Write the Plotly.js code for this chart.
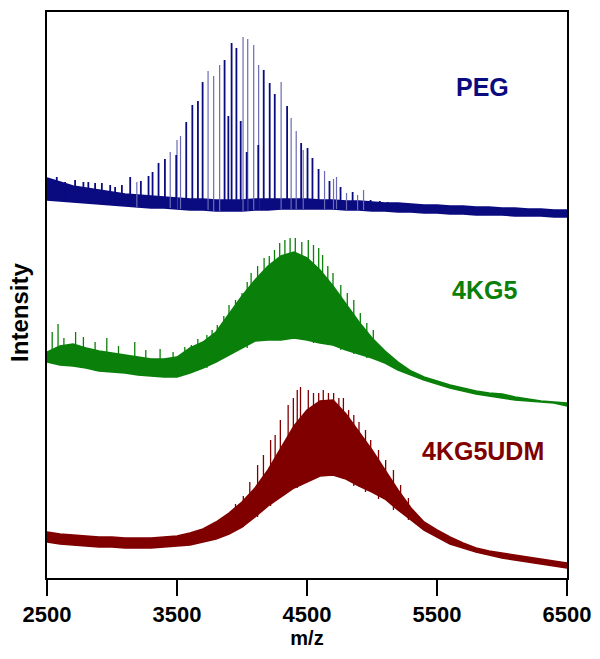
<!DOCTYPE html>
<html>
<head>
<meta charset="utf-8">
<script src="https://cdn.plot.ly/plotly-3.0.1.min.js"></script>
<style>
  html, body { margin: 0; padding: 0; background: #fff; }
  #chart { width: 600px; height: 659px; }
</style>
</head>
<body>
<div id="chart"></div>
<script>
// m/z grid the band edges were read on (every 100 Da)
const MZ = [2500, 2600, 2700, 2800, 2900, 3000, 3100, 3200, 3300, 3400, 3500,
  3600, 3700, 3800, 3900, 4000, 4100, 4200, 4300, 4400, 4500,
  4600, 4700, 4800, 4900, 5000, 5100, 5200, 5300, 5400, 5500,
  5600, 5700, 5800, 5900, 6000, 6100, 6200, 6300, 6400, 6500];

const X_TICKS = [2500, 3500, 4500, 5500, 6500];

// Stacked intensities (arbitrary units, each trace offset vertically).
// PEG baseline noise band
const PEG_TOP = [400, 396, 392, 390, 388, 386, 384, 383, 382, 381, 380,
  379, 379, 378, 378, 378, 379, 379, 379, 379, 379,
  378, 378, 377, 377, 376, 375, 375, 374, 373, 373,
  372, 372, 371, 371, 370, 370, 369, 369, 368, 368];
const PEG_BOTTOM = [378, 377, 376, 375, 374, 373, 372, 371, 370, 370, 369,
  368, 368, 367, 367, 367, 368, 368, 369, 369, 369,
  369, 369, 368, 368, 367, 367, 366, 366, 365, 365,
  364, 364, 363, 363, 363, 362, 362, 362, 361, 361];

// PEG oligomer peaks (44 Da series), drawn dark and pale as in the scan
const PEG_DARK_MZ = [2575, 2639, 2716, 2780, 2818, 2870, 2922, 2986, 3024, 3076,
  3140, 3222, 3281, 3312, 3358, 3407, 3494, 3571, 3618, 3661, 3697,
  3866, 3895, 3920, 3957, 3990, 4036, 4125, 4167, 4213, 4252, 4347,
  4455, 4504, 4542, 4589, 4673, 4758, 4851, 4989, 5060, 5120, 5200, 5450];
const PEG_DARK_H = [401, 396, 398, 396, 396, 395, 395, 393, 391, 393,
  401, 397, 402, 406, 415, 419, 423, 456, 473, 477, 496,
  518, 462, 535, 530, 457, 426, 433, 508, 495, 484, 472,
  435, 430, 420, 409, 397, 391, 386, 378, 377, 376, 374, 372];
const PEG_LIGHT_MZ = [3191, 3448, 3500, 3527, 3739, 3782, 3828, 4008, 4044, 4090,
  4128, 4301, 4378, 4417, 4471, 4635, 4704, 4727, 4804, 4889, 4935];
const PEG_LIGHT_H = [396, 426, 438, 442, 507, 502, 513, 541, 539, 533,
  513, 496, 460, 447, 428, 407, 399, 401, 385, 383, 388];

// 4KG5 dense envelope
const KG5_TOP = [226, 232, 234, 230, 227, 225, 223, 221, 219, 219, 221,
  230, 236, 246, 264, 282, 298, 312, 322, 326, 320,
  308, 292, 274, 256, 240, 227, 216, 207, 201, 197,
  193, 190, 187, 185, 184, 181, 179, 177, 176, 175];
const KG5_BOTTOM = [216, 213, 212, 210, 207, 206, 205, 203, 202, 201, 201,
  205, 210, 216, 223, 230, 237, 238, 238, 240, 238,
  235, 233, 228, 224, 220, 215, 208, 203, 198, 194,
  190, 187, 184, 182, 180, 178, 177, 176, 175, 172];
const KG5_SPIKE_MZ = [2540, 2585, 2630, 2720, 2780, 2870, 2960, 3050, 3175, 3260,
  3370, 3470, 3560, 3610, 3660, 3730, 3770, 3810, 3860, 3900, 3950,
  4000, 4040, 4070, 4120, 4170, 4210, 4250, 4290, 4330, 4370, 4410,
  4460, 4510, 4550, 4590, 4620, 4660, 4700, 4760, 4810, 4860, 4910, 4960, 5010];
const KG5_SPIKE_H = [246, 254, 240, 246, 241, 236, 240, 232, 236, 228,
  229, 226, 231, 233, 239, 243, 248, 253, 262, 273, 278,
  285, 296, 305, 312, 320, 322, 328, 335, 338, 340, 340,
  336, 338, 333, 330, 323, 312, 305, 293, 285, 278, 265, 255, 248];

// 4KG5UDM dense envelope
const UDM_TOP = [46, 44, 43, 42, 41, 41, 40, 40, 40, 41, 42,
  45, 49, 56, 65, 76, 90, 108, 130, 152, 168,
  177, 178, 164, 146, 128, 108, 88, 70, 56, 48,
  41, 35, 30, 27, 25, 23, 21, 19, 17, 15];
const UDM_BOTTOM = [36, 34, 33, 32, 31, 31, 30, 30, 30, 31, 32,
  33, 36, 39, 44, 51, 61, 72, 81, 90, 96,
  102, 103, 99, 92, 86, 79, 68, 58, 48, 41,
  34, 30, 26, 23, 20, 18, 16, 14, 12, 10];
const UDM_SPIKE_MZ = [3950, 4010, 4060, 4120, 4165, 4220, 4255, 4295, 4355, 4395,
  4425, 4450, 4510, 4550, 4590, 4625, 4665, 4705, 4745, 4780, 4820,
  4860, 4900, 4950, 4990, 5050, 5105, 5165, 5220, 5280];
const UDM_SPIKE_H = [74, 82, 96, 113, 123, 138, 143, 158, 173, 180,
  188, 191, 188, 185, 185, 188, 185, 185, 180, 180, 168,
  163, 156, 148, 138, 128, 118, 108, 93, 80];

const NAVY = "#0b0b80";
const GREEN = "#0a800a";
const MAROON = "#800000";
const FONT = "Liberation Sans, Arial, sans-serif";

// closed polygon between the upper and lower edge of a band
function band(top, bottom, color) {
  return {
    x: MZ.concat(MZ.slice().reverse()),
    y: top.concat(bottom.slice().reverse()),
    mode: "lines",
    fill: "toself",
    fillcolor: color,
    line: { color: color, width: 1.5 },
    hoverinfo: "skip",
  };
}

// vertical sticks from the band floor up to each peak
function sticks(mz, h, floor, color, width) {
  const x = [];
  const y = [];
  mz.forEach((m, i) => {
    const j = Math.min(MZ.length - 1, Math.max(0, Math.round((m - MZ[0]) / 100)));
    x.push(m, m, null);
    y.push(floor[j], h[i], null);
  });
  return {
    x, y,
    mode: "lines",
    line: { color: color, width: width },
    hoverinfo: "skip",
  };
}

const traces = [
  band(PEG_TOP, PEG_BOTTOM, NAVY),
  sticks(PEG_LIGHT_MZ, PEG_LIGHT_H, PEG_BOTTOM, "#6b6bb5", 1.2),
  sticks(PEG_DARK_MZ, PEG_DARK_H, PEG_BOTTOM, NAVY, 1.8),
  band(KG5_TOP, KG5_BOTTOM, GREEN),
  sticks(KG5_SPIKE_MZ, KG5_SPIKE_H, KG5_BOTTOM, GREEN, 1.3),
  band(UDM_TOP, UDM_BOTTOM, MAROON),
  sticks(UDM_SPIKE_MZ, UDM_SPIKE_H, UDM_BOTTOM, MAROON, 1.3),
];

const labelFont = (color) => ({ family: FONT, size: 25, color: color, weight: "bold" });

const layout = {
  width: 600,
  height: 659,
  margin: { l: 47, r: 33, t: 12, b: 81 },
  paper_bgcolor: "#ffffff",
  plot_bgcolor: "#ffffff",
  showlegend: false,
  xaxis: {
    range: [2500, 6500],
    tickvals: X_TICKS,
    ticktext: X_TICKS.map(String),
    ticks: "outside",
    ticklen: 16,
    tickwidth: 2,
    tickcolor: "#000",
    showline: true,
    linewidth: 2,
    linecolor: "#000",
    mirror: true,
    showgrid: false,
    zeroline: false,
    tickfont: { family: FONT, size: 22, color: "#000", weight: "bold" },
    title: {
      text: "m/z",
      font: { family: FONT, size: 20, color: "#000", weight: "bold" },
      standoff: 0,
    },
  },
  yaxis: {
    range: [0, 566],
    showticklabels: false,
    ticks: "",
    showline: true,
    linewidth: 2,
    linecolor: "#000",
    mirror: true,
    showgrid: false,
    zeroline: false,
  },
  annotations: [
    {
      text: "Intensity", xref: "paper", yref: "paper",
      x: -0.052, y: 0.47, xanchor: "center", yanchor: "middle",
      textangle: -90, showarrow: false,
      font: { family: FONT, size: 24, color: "#000", weight: "bold" },
    },
    { text: "PEG", x: 5853, y: 491, showarrow: false, font: labelFont(NAVY) },
    { text: "4KG5", x: 5868, y: 288, showarrow: false, font: labelFont(GREEN) },
    { text: "4KG5UDM", x: 5853, y: 127, showarrow: false, font: labelFont(MAROON) },
  ],
};

Plotly.newPlot("chart", traces, layout, { staticPlot: true });
</script>
</body>
</html>
